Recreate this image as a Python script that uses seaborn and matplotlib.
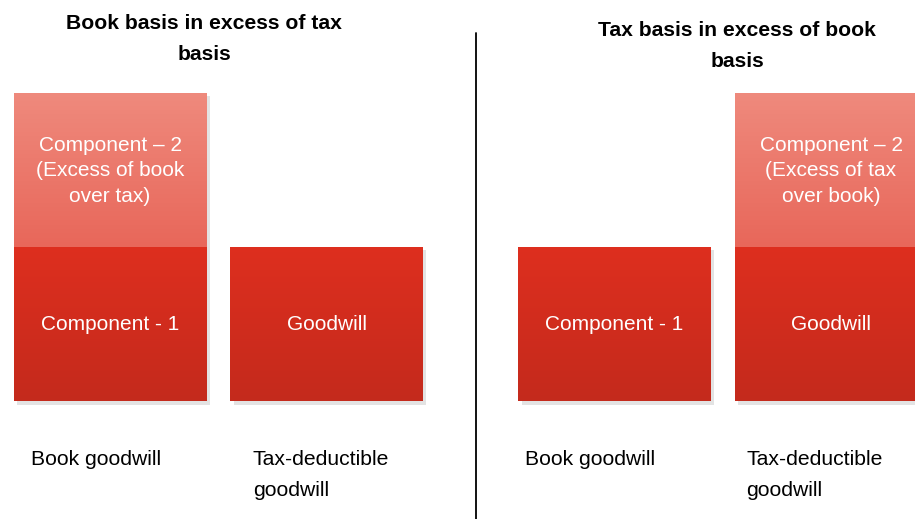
import numpy as np
import seaborn as sns
import matplotlib.pyplot as plt
import matplotlib.patheffects as pe
from matplotlib.colors import LinearSegmentedColormap
from matplotlib.lines import Line2D

sns.set_theme(style='white')
plt.rcParams['font.family'] = ['Liberation Sans', 'DejaVu Sans']
plt.rcParams['text.color'] = 'black'

# data
titles = ['Book basis in excess of tax\nbasis', 'Tax basis in excess of book\nbasis']
bar_names = ['Book goodwill', 'Tax-deductible\ngoodwill']
lower_vals = [[1, 1], [1, 1]]
upper_vals = [[1, 0], [0, 1]]
lower_text = [['Component - 1', 'Goodwill'], ['Component - 1', 'Goodwill']]
upper_text = [['Component \u2013 2\n(Excess of book\nover tax)', ''],
              ['', 'Component \u2013 2\n(Excess of tax\nover book)']]

dark = LinearSegmentedColormap.from_list('dark', ['#C42A1C', '#DE2F1F'])
light = LinearSegmentedColormap.from_list('light', ['#E8675A', '#EF8A7D'])

fig = plt.figure(figsize=(9.15, 5.19), dpi=100)
ax_l = fig.add_axes([0, 0, 476 / 915, 1])
ax_r = fig.add_axes([476 / 915, 0, 439 / 915, 1])
axes = [ax_l, ax_r]
xlims = [(-0.508, 1.690), (-0.640, 1.388)]
ylim = (-0.766, 2.604)
label_off = [[0.08, 0.105], [0.03, 0.055]]
shadow = [pe.SimplePatchShadow(offset=(2.5, -2.5), shadow_rgbFace='#dcdcdc', alpha=0.8), pe.Normal()]

for k, ax in enumerate(axes):
    sns.barplot(x=bar_names, y=lower_vals[k], color='#D42D1E', saturation=1,
                width=0.89, errorbar=None, linewidth=0, ax=ax)
    n = len(ax.patches)
    sns.barplot(x=bar_names, y=upper_vals[k], bottom=lower_vals[k], color='#EC7A6C',
                saturation=1, width=0.89, errorbar=None, linewidth=0, ax=ax)
    grad = np.linspace(0, 1, 256).reshape(-1, 1)
    for i, p in enumerate(ax.patches):
        if p.get_height() <= 0:
            continue
        p.set_path_effects(shadow)
        x0, y0, w, h = p.get_x(), p.get_y(), p.get_width(), p.get_height()
        im = ax.imshow(grad, extent=[x0, x0 + w, y0, y0 + h], origin='lower',
                       cmap=dark if i < n else light, aspect='auto', zorder=3)
        im.set_clip_path(p)
        txt = lower_text[k][i] if i < n else upper_text[k][i - n]
        ax.text(x0 + w / 2, y0 + h / 2 - 0.005, txt, color='white', fontsize=15,
                ha='center', va='center', linespacing=1.45, zorder=4)
    for i, p in enumerate(ax.patches[:n]):
        ax.text(p.get_x() + label_off[k][i], -0.317, bar_names[i], fontsize=15.2,
                ha='left', va='top', linespacing=1.8, color='black')
    ax.set_xlim(*xlims[k])
    ax.set_ylim(*ylim)
    ax.axis('off')

fig.text(204 / 915, 1 - 14 / 519, titles[0], fontsize=15.2, fontweight='bold',
         ha='center', va='top', linespacing=1.77)
fig.text(737 / 915, 1 - 21 / 519, titles[1], fontsize=15.2, fontweight='bold',
         ha='center', va='top', linespacing=1.77)
fig.add_artist(Line2D([476 / 915, 476 / 915], [0, 1 - 33 / 519], color='black', lw=1.3))

fig.savefig('out.png', dpi=100)
